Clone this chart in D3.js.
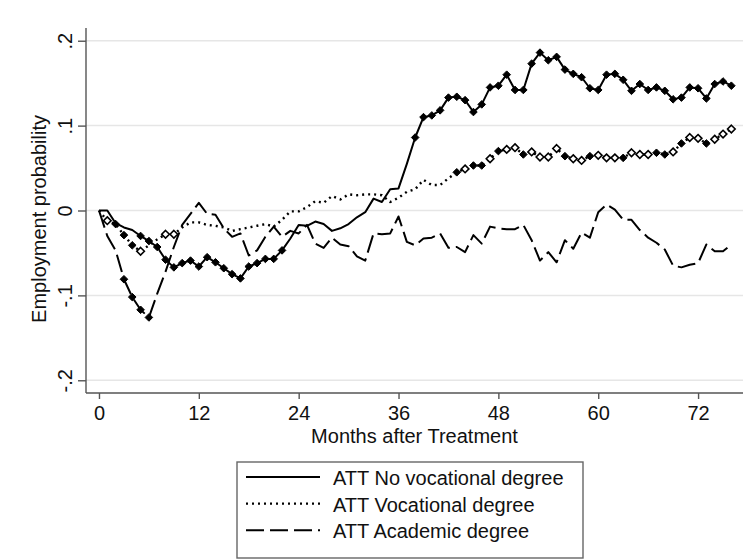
<!DOCTYPE html>
<html><head><meta charset="utf-8">
<script src="https://cdn.jsdelivr.net/npm/d3@7/dist/d3.min.js"></script>
<style>body{margin:0;background:#fff}text{font-family:"Liberation Sans",Arial,Helvetica,sans-serif;fill:#111}</style>
</head><body><svg id="c" width="752" height="559"></svg>
<script>
// ---- data ----
const months = [0,1,2,3,4,5,6,7,8,9,10,11,12,13,14,15,16,17,18,19,20,21,22,23,24,25,26,27,28,29,30,31,32,33,34,35,36,37,38,39,40,41,42,43,44,45,46,47,48,49,50,51,52,53,54,55,56,57,58,59,60,61,62,63,64,65,66,67,68,69,70,71,72,73,74,75,76];
const noVocational = [0,0,-0.015,-0.020,-0.023,-0.030,-0.036,-0.043,-0.058,-0.067,-0.062,-0.059,-0.066,-0.055,-0.061,-0.068,-0.075,-0.080,-0.066,-0.062,-0.057,-0.057,-0.047,-0.033,-0.017,-0.018,-0.013,-0.016,-0.024,-0.021,-0.016,-0.008,-0.002,0.014,0.010,0.025,0.026,0.055,0.086,0.110,0.112,0.118,0.133,0.134,0.130,0.116,0.125,0.145,0.147,0.160,0.142,0.142,0.173,0.186,0.177,0.181,0.166,0.161,0.157,0.144,0.142,0.160,0.161,0.154,0.141,0.149,0.142,0.145,0.141,0.131,0.133,0.145,0.144,0.132,0.149,0.152,0.147];
const vocational = [0,-0.012,-0.016,-0.029,-0.041,-0.048,-0.041,-0.034,-0.028,-0.028,-0.020,-0.014,-0.014,-0.017,-0.018,-0.020,-0.024,-0.022,-0.020,-0.018,-0.016,-0.019,-0.011,-0.001,-0.001,0.004,0.011,0.009,0.017,0.013,0.019,0.018,0.019,0.019,0.018,0.010,0.015,0.022,0.025,0.036,0.030,0.030,0.038,0.045,0.049,0.053,0.053,0.061,0.070,0.072,0.074,0.066,0.069,0.063,0.063,0.073,0.064,0.061,0.059,0.064,0.065,0.062,0.062,0.062,0.068,0.066,0.066,0.068,0.066,0.069,0.079,0.086,0.085,0.079,0.084,0.090,0.096];
const academic = [0,-0.030,-0.047,-0.081,-0.102,-0.117,-0.126,-0.098,-0.072,-0.043,-0.017,-0.004,0.009,-0.004,-0.005,-0.021,-0.031,-0.027,-0.053,-0.047,-0.031,-0.019,-0.031,-0.024,-0.027,-0.017,-0.039,-0.044,-0.032,-0.040,-0.042,-0.054,-0.059,-0.027,-0.028,-0.027,-0.007,-0.037,-0.041,-0.033,-0.032,-0.027,-0.044,-0.043,-0.049,-0.029,-0.039,-0.019,-0.021,-0.022,-0.022,-0.017,-0.035,-0.059,-0.049,-0.061,-0.035,-0.045,-0.026,-0.032,-0.002,0.007,0.001,-0.011,-0.011,-0.023,-0.032,-0.038,-0.046,-0.065,-0.067,-0.064,-0.062,-0.040,-0.048,-0.048,-0.040];
// marker type per point: "f" filled diamond, "h" hollow diamond, "" none
const noVocationalMarks = ["","","","","","f","f","f","f","f","f","f","f","f","f","f","f","f","f","f","f","f","f","","","","","","","","","","","","","","","","f","f","f","f","f","f","f","f","f","f","f","f","f","f","f","f","f","f","f","f","f","f","f","f","f","f","f","f","f","f","f","f","f","f","f","f","f","f","f"];
const vocationalMarks = ["","h","f","f","f","h","","","h","h","","","","","","","","","","","","","","","","","","","","","","","","","","","","","","","","","","f","h","f","f","h","f","h","h","f","h","h","h","h","f","h","h","f","h","h","h","f","h","h","h","f","f","h","f","h","h","f","h","h","h"];
const academicMarks = ["","","","f","f","f","f","","","","","","","","","","","","","","","","","","","","","","","","","","","","","","","","","","","","","","","","","","","","","","","","","","","","","","","","","","","","","","","","","","","","","","",""];
const xTicks = [0,12,24,36,48,60,72];
const yTicks = [-0.2,-0.1,0,0.1,0.2];
const yTickLabels = ["-.2","-.1","0",".1",".2"];
const seriesNames = ["ATT No vocational degree","ATT Vocational degree","ATT Academic degree"];

// ---- drawing ----
const svg = d3.select("#c");
svg.append("rect").attr("width",752).attr("height",559).attr("fill","#fff");
const L=86, R=743, T=28, B=393;
const x = d3.scaleLinear().domain([-1.56, 77.4]).range([L, R]);
const y = d3.scaleLinear().domain([-0.215, 0.215]).range([B, T]);

// gridlines
svg.append("g").selectAll("line").data(yTicks).join("line")
  .attr("x1",L).attr("x2",R).attr("y1",d=>y(d)).attr("y2",d=>y(d))
  .attr("stroke","#e6e6e6").attr("stroke-width",1.5);

// axes
const xAxis = svg.append("g").attr("transform",`translate(0,${B})`)
  .call(d3.axisBottom(x).tickValues(xTicks).tickSize(6).tickPadding(3).tickFormat(d3.format("d")));
const yAxis = svg.append("g").attr("transform",`translate(${L},0)`)
  .call(d3.axisLeft(y).tickValues(yTicks).tickSize(8).tickFormat((d,i)=>yTickLabels[i]));
[xAxis,yAxis].forEach(a=>{
  a.select(".domain").attr("stroke","#555").attr("stroke-width",1.4).attr("d", null);
  a.selectAll(".tick line").attr("stroke","#555").attr("stroke-width",1.4);
  a.selectAll("text").style("font-size","20px").attr("fill","#111");
});
xAxis.select(".domain").attr("d",`M${L},0H${R}`);
yAxis.select(".domain").attr("d",`M0,${T}V${B}`);
xAxis.selectAll(".tick text").attr("dy",null).attr("y",27);
yAxis.selectAll(".tick text").attr("transform","rotate(-90)").attr("x",0).attr("y",-14)
  .attr("dy",null).attr("text-anchor","middle");

// axis titles
svg.append("text").attr("x",(L+R)/2).attr("y",443).attr("text-anchor","middle")
  .style("font-size","20px").text("Months after Treatment");
svg.append("text").attr("transform","translate(46,219) rotate(-90)").attr("text-anchor","middle")
  .style("font-size","20px").text("Employment probability");

// lines
const styles = [
  {vals:noVocational, marks:noVocationalMarks, dash:null, w:2},
  {vals:vocational, marks:vocationalMarks, dash:"2,4", w:2.4},
  {vals:academic, marks:academicMarks, dash:"18,6", w:2}
];
const line = d3.line().x((d,i)=>x(months[i])).y(d=>y(d));
[2,1,0].forEach(k=>{
  const s = styles[k];
  svg.append("path").datum(s.vals).attr("d",line).attr("fill","none")
    .attr("stroke","#000").attr("stroke-width",s.w)
    .attr("stroke-dasharray",s.dash).attr("stroke-linejoin","round");
});
const r=3.8;
const diamond = `M0,${-r}L${r},0L0,${r}L${-r},0Z`;
styles.forEach(s=>{
  const pts = s.vals.map((v,i)=>({m:months[i],v,t:s.marks[i]})).filter(p=>p.t);
  svg.append("g").selectAll("path").data(pts).join("path")
    .attr("d",diamond).attr("transform",p=>`translate(${x(p.m)},${y(p.v)})`)
    .attr("fill",p=>p.t==="f"?"#000":"#fff").attr("stroke","#000")
    .attr("stroke-width",p=>p.t==="f"?1:1.6);
});

// legend
const lg = svg.append("g");
lg.append("rect").attr("x",237).attr("y",462).attr("width",346).attr("height",96)
  .attr("fill","#fff").attr("stroke","#666").attr("stroke-width",1.4);
seriesNames.forEach((name,i)=>{
  const base = 485 + i*26.6;
  lg.append("line").attr("x1",246).attr("x2",320).attr("y1",base-8).attr("y2",base-8)
    .attr("stroke","#000").attr("stroke-width",styles[i].w).attr("stroke-dasharray",styles[i].dash);
  lg.append("text").attr("x",333).attr("y",base).style("font-size","20px").text(name);
});
</script></body></html>
